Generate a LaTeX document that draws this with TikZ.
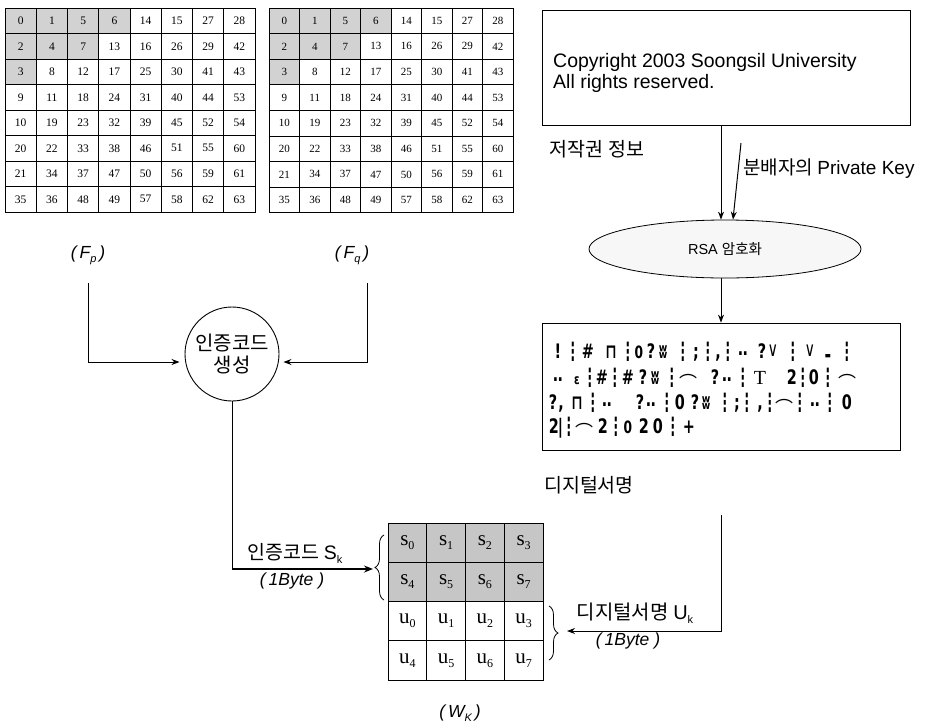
\documentclass[tikz,border=0pt]{standalone}
\usepackage{fontspec}
\usepackage{graphicx}
\setmainfont{Liberation Sans}
\newfontfamily\kr{Noto Sans CJK KR}
\newfontfamily\ser{Liberation Serif}
\newfontfamily\garb[FakeStretch=0.72]{DejaVu Sans}
\usetikzlibrary{arrows.meta,decorations.pathreplacing,shapes.geometric}
\newcommand\myfs[1]{\fontsize{#1}{#1}\selectfont}
\newcommand\gvd{\raisebox{-2pt}{\scalebox{0.8}[1.25]{⋮}}}
\newcommand\gcap{⊓}
\newcommand\gzr{{\myfs{17}0}}
\newcommand\gZr{0}
\newcommand\gww{ʬ}
\newcommand\gdd{\raisebox{3pt}{‥}}
\newcommand\gvv{\raisebox{2pt}{\mdseries ∨}}
\newcommand\garc{\raisebox{-5pt}{\kr\mdseries\myfs{18}⌒}}
\newcommand\gbar{{\myfs{9}▬}}
\newcommand\geps{{\myfs{14}ɛ}}
\newcommand\gT{{\ser\mdseries T}}
\newcommand\gtb{2\kern-1pt|}
\begin{document}
\begin{tikzpicture}[x=1pt,y=-1pt,
  cellA/.style={draw, line width=0.7pt, minimum width=31.25pt, minimum height=25.5pt, inner sep=0pt, font=\ser\myfs{11.5}},
  cellB/.style={draw, line width=0.7pt, minimum width=30.5pt, minimum height=25.6pt, inner sep=0pt, font=\ser\myfs{11}},
  wcell/.style={draw, line width=0.7pt, minimum width=38.75pt, minimum height=39.25pt, inner sep=0pt, font=\ser\myfs{21}},
  lab/.style={inner sep=0pt, font=\kr\myfs{19.5}},
  arr/.style={line width=1pt, -{Stealth[length=8pt,width=6pt]}},
  thickarr/.style={line width=1.8pt, -{Stealth[length=9pt,width=7pt]}},
  brc/.style={decorate, decoration={brace, amplitude=9pt}, line width=0.8pt},
  gly/.style={anchor=base, inner sep=0pt, font=\garb\bfseries\myfs{20}},
  itl/.style={inner sep=0pt, font=\itshape\myfs{17.5}}
]
\useasboundingbox (0,0) rectangle (930,724);

% ---- zigzag grids ----
\foreach \r/\vals in {0/{0,1,5,6,14,15,27,28},1/{2,4,7,13,16,26,29,42},2/{3,8,12,17,25,30,41,43},3/{9,11,18,24,31,40,44,53},4/{10,19,23,32,39,45,52,54},5/{20,22,33,38,46,51,55,60},6/{21,34,37,47,50,56,59,61},7/{35,36,48,49,57,58,62,63}}{
  \foreach \v [count=\c from 0] in \vals {
    \pgfmathtruncatemacro\sh{(\r==0)*(\c<4)+(\r==1)*(\c<3)+(\r==2)*(\c<1)}
    \ifnum\sh>0 \def\fc{gray!35}\else\def\fc{white}\fi
    \node[cellA, fill=\fc] (a-\r-\c) at ({5+31.25*(\c+0.5)}, {8+25.5*(\r+0.5)}) {\v};
    \node[cellB, fill=\fc] (b-\r-\c) at ({269+30.5*(\c+0.5)}, {8+25.6*(\r+0.5)}) {\v};
  }
}

% ---- labels Fp Fq ----
\node[itl] (fp) at (88,255) {(\,F\raisebox{-4pt}{\myfs{11}p}\,)};
\node[itl] (fq) at (352,255) {(\,F\raisebox{-4pt}{\myfs{11}q}\,)};
\coordinate (fpS) at (88,283);
\coordinate (fqS) at (367,283);

% ---- authentication code generator ----
\node[draw, circle, line width=0.9pt, minimum size=94pt, inner sep=0pt, align=center, font=\kr\myfs{20}] (gen) at (232,354) {인증코드\\[2pt]생성};
\draw[arr] (fpS) |- ([xshift=-5pt,yshift=-8pt]gen.west);
\draw[arr] (fqS) |- ([xshift=4pt,yshift=-8pt]gen.east);

% ---- W_k grid ----
\foreach \i in {0,...,7} {
  \pgfmathtruncatemacro\rr{int(\i/4)}
  \pgfmathtruncatemacro\cc{mod(\i,4)}
  \node[wcell, fill=gray!45] (s-\rr-\cc) at ({388+38.75*(\cc+0.5)}, {523+39.25*(\rr+0.5)}) {s\raisebox{-4pt}{\myfs{12}\i}};
  \pgfmathtruncatemacro\ur{\rr+2}
  \node[wcell, fill=white] (u-\rr-\cc) at ({388+38.75*(\cc+0.5)}, {523+39.25*(\ur+0.5)}) {u\raisebox{-4pt}{\myfs{12}\i}};
}
\node[itl] (wk) at (460,713) {(\,W\raisebox{-4pt}{\myfs{11}K}\,)};

% left brace for s rows
\coordinate (lbB) at (384,600);
\coordinate (lbT) at (384,535);
\draw[brc] (lbB) -- (lbT);
\coordinate (stip) at (373,569);
\coordinate (scorner) at (gen.south |- stip);
\draw[line width=1pt] (gen.south) -- (scorner);
\draw[thickarr] (scorner) -- (stip);
\node[lab] (sklab) at (295,553) {인증코드 {\rmfamily S\raisebox{-4pt}{\myfs{11}k}}};
\node[itl] (sk1) at (292,581) {(\,1Byte )};

% right brace for u rows
\coordinate (rbT) at (549,606);
\coordinate (rbB) at (549,660);
\draw[brc] (rbT) -- (rbB);
\coordinate (utip) at (567,631);
\coordinate (uS) at (721,515);
\draw[arr] (uS) |- (utip);
\node[lab, font=\kr\myfs{20}] (uklab) at (635,613) {디지털서명 {\rmfamily U\raisebox{-4pt}{\myfs{11}k}}};
\node[itl] (uk1) at (628,641) {(\,1Byte )};

% ---- copyright / RSA / signature ----
\node[draw, line width=0.8pt, minimum width=368pt, minimum height=115pt, inner sep=0pt] (cr) at (726,67.5) {};
\node[anchor=west, inner sep=0pt, align=left, font=\myfs{19.5}] (crtext) at (553,73) {Copyright 2003 Soongsil University\\[1pt]All rights reserved.};
\node[lab] (crlab) at (597,149) {저작권 정보};

\node[draw, ellipse, line width=0.8pt, fill=gray!6, minimum width=272pt, minimum height=58pt, inner sep=0pt, font=\myfs{14.5}] (rsa) at (725,249) {RSA {\kr 암호화}};
\draw[arr] ([xshift=-5pt]cr.south) -- ([xshift=-4pt]rsa.north);
\coordinate (pk) at (741,143);
\draw[arr] (pk) -- ([xshift=8pt]rsa.north);
\node[lab, anchor=west, font=\kr\myfs{19}] (pklab) at (743,169) {분배자의 {\rmfamily Private Key}};

\node[draw, line width=0.8pt, minimum width=358pt, minimum height=127pt, inner sep=0pt] (sig) at (721,386.5) {};
\draw[arr] (sig.north |- rsa.south) -- (sig.north);
\foreach \x/\g [count=\k] in {558/!,573/\gvd,588/\#,611/\gcap,628/\gvd,639/\gzr,651/?,663/\gww,683/\gvd,696/;,708/\gvd,718/{,},728/\gvd,743/\gdd,762/?,773/\gvv,793/\gvd,810/\gvv,828/\gbar,847/\gvd}
  \node[gly] (ga\k) at (\x,358) {\g};
\foreach \x/\g [count=\k] in {558/\gdd,577/\geps,590/\gvd,602/\#,615/\gvd,628/\#,643/?,655/\gww,672/\gvd,688/\garc,715/?,727/\gdd,743/\gvd,760/\gT,792/2,803/\gvd,814/\gZr,828/\gvd,847/\garc}
  \node[gly] (gb\k) at (\x,384) {\g};
\foreach \x/\g [count=\k] in {553/?,561/{,},577/\gcap,593/\gvd,607/\gdd,640/?,651/\gdd,667/\gvd,680/\gZr,695/?,706/\gww,725/\gvd,737/;,747/\gvd,760/{,},770/\gvd,784/\garc,800/\gvd,815/\gdd,830/\gvd,847/\gZr}
  \node[gly] (gc\k) at (\x,409) {\g};
\foreach \x/\g [count=\k] in {556/\gtb,569/\gvd,584/\garc,603/2,616/\gvd,628/\gzr,644/2,658/\gZr,673/\gvd,689/+}
  \node[gly] (gd\k) at (\x,433) {\g};
\node[lab] (siglab) at (589,485) {디지털서명};
\end{tikzpicture}
\end{document}
